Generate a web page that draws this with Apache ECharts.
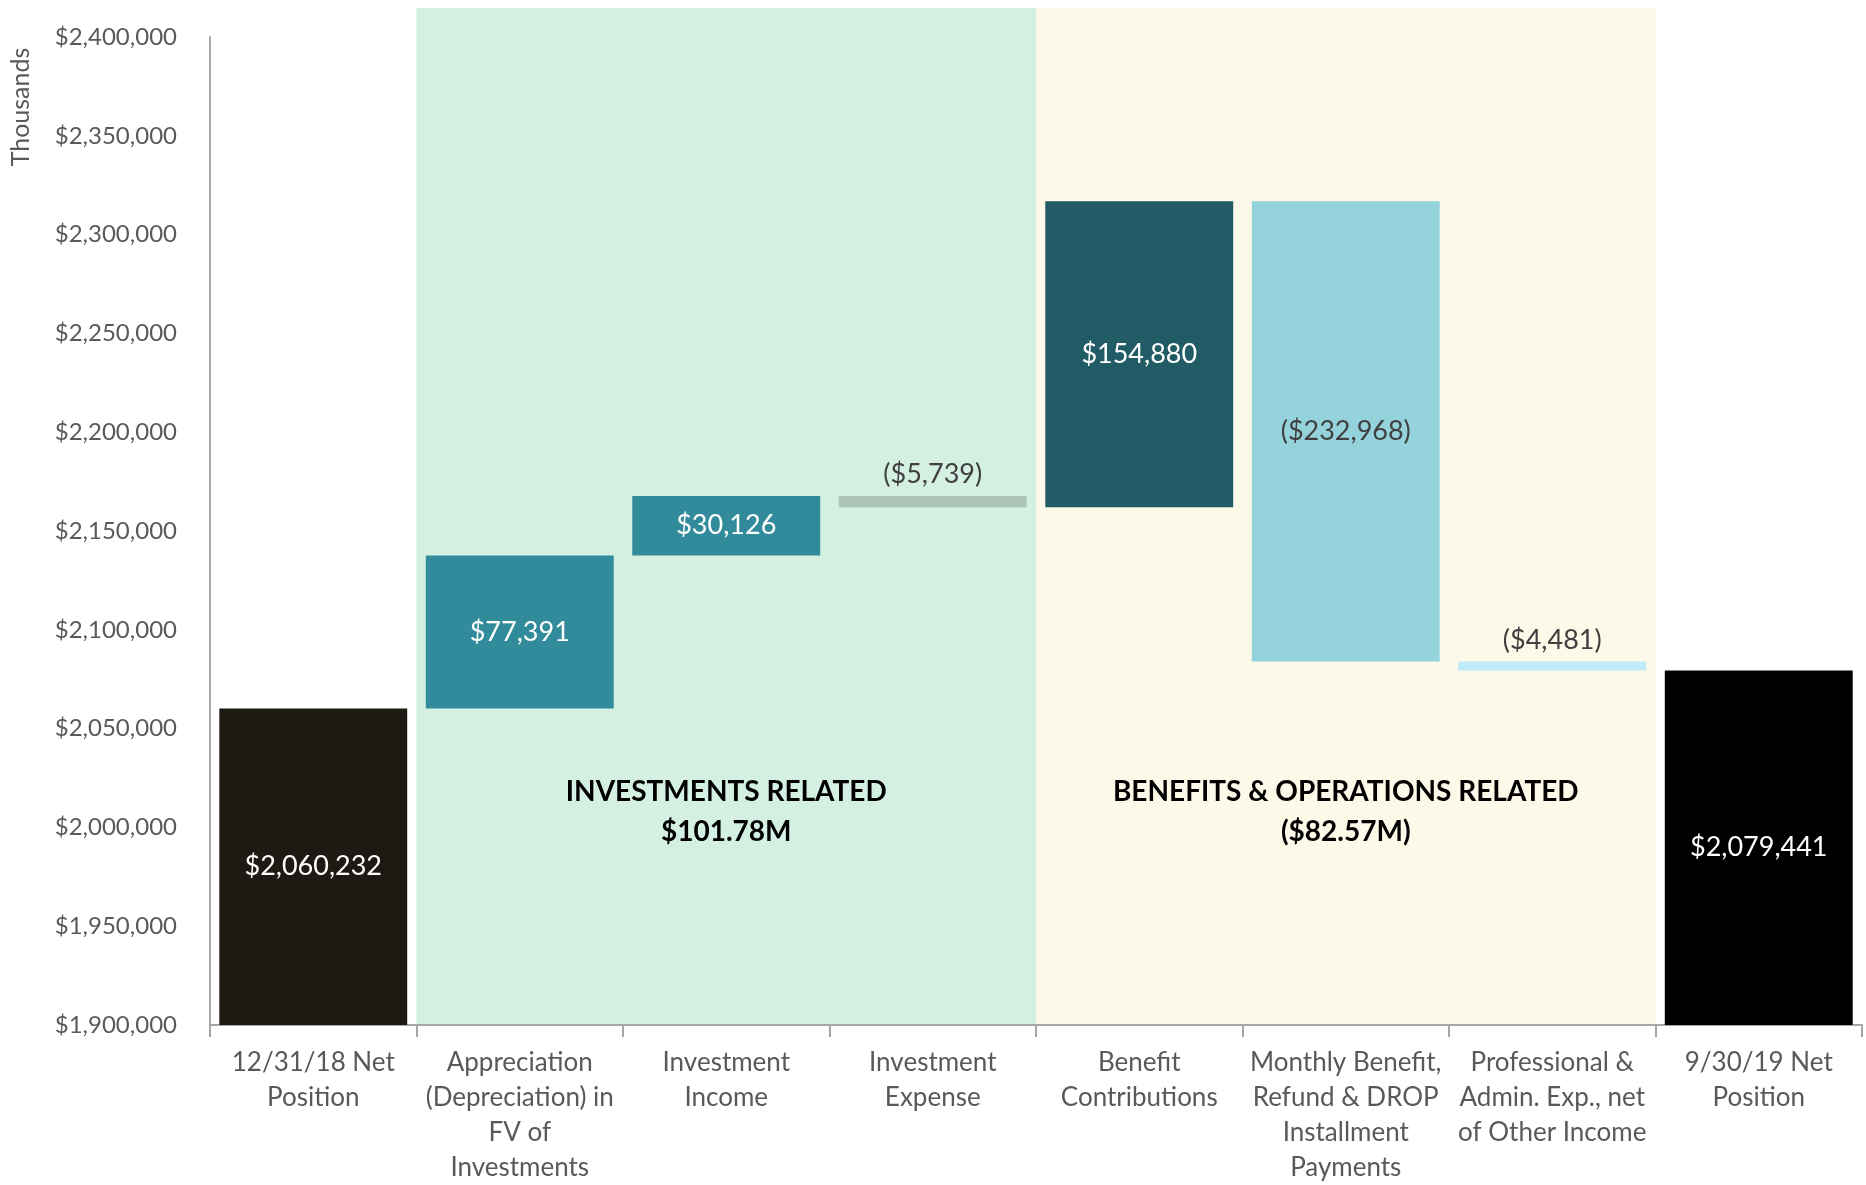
<!DOCTYPE html>
<html>
<head>
<meta charset="utf-8">
<title>Net Position Waterfall</title>
<script src="https://cdn.jsdelivr.net/npm/echarts@6/dist/echarts.min.js"></script>
<style>
  html, body { margin: 0; padding: 0; background: #fff; }
  #chart { width: 1866px; height: 1185px; }
</style>
</head>
<body>
<div id="chart"></div>
<script>
// 类目与数据
const categories = [
  '12/31/18 Net\nPosition',
  'Appreciation\n(Depreciation) in\nFV of\nInvestments',
  'Investment\nIncome',
  'Investment\nExpense',
  'Benefit\nContributions',
  'Monthly Benefit,\nRefund & DROP\nInstallment\nPayments',
  'Professional &\nAdmin. Exp., net\nof Other Income',
  '9/30/19 Net\nPosition'
];
const openingBalance = 2060232;
const changes = [77391, 30126, -5739, 154880, -232968, -4481];
const closingBalance = 2079441;

const yMin = 1900000, yMax = 2400000, yStep = 50000;

const groupTitles = ['INVESTMENTS RELATED\n$101.78M', 'BENEFITS & OPERATIONS RELATED\n($82.57M)'];

// 样式
const barColors = ['#1e1a13', '#328b9a', '#328b9a', '#adc5b9', '#215c66', '#95d3dc', '#bfecf8', '#000000'];
const labelColors = ['#fff', '#fff', '#fff', '#404040', '#fff', '#404040', '#404040', '#fff'];
const FONT = 'Lato';

function money(v) {
  const s = '$' + Math.abs(v).toLocaleString('en-US');
  return v < 0 ? '(' + s + ')' : s;
}

// 拼接瀑布图的底座和增量
let running = openingBalance;
const baseData = [openingBalance];
const deltaData = ['-'];
changes.forEach(c => {
  const end = running + c;
  baseData.push(Math.min(running, end));
  deltaData.push(Math.abs(c));
  running = end;
});
baseData.push(closingBalance);
deltaData.push('-');

const last = categories.length - 1;

const baseItems = baseData.map((v, i) => {
  const isTotal = i === 0 || i === last;
  return {
    value: v,
    itemStyle: { color: isTotal ? barColors[i] : 'rgba(0,0,0,0)' },
    label: { show: isTotal, position: 'inside', color: labelColors[i], formatter: () => money(v) }
  };
});

const deltaItems = deltaData.map((v, i) => {
  if (v === '-') return '-';
  const c = changes[i - 1];
  const small = Math.abs(c) < 10000;
  return {
    value: v,
    itemStyle: { color: barColors[i] },
    label: {
      show: true,
      position: small ? 'top' : 'inside',
      distance: 8,
      color: labelColors[i],
      formatter: () => money(c)
    }
  };
});

const chart = echarts.init(document.getElementById('chart'));

const option = {
  animation: false,
  backgroundColor: '#fff',
  textStyle: { fontFamily: FONT },
  grid: { left: 210, right: 4, top: 37, bottom: 160 },
  xAxis: {
    type: 'category',
    data: categories,
    axisLine: { lineStyle: { color: '#a6a6a6', width: 2 } },
    axisTick: { show: true, interval: 0, length: 12, lineStyle: { color: '#a6a6a6', width: 2 } },
    axisLabel: {
      interval: 0, color: '#595959', fontSize: 26, fontFamily: FONT,
      lineHeight: 35, margin: 20
    }
  },
  yAxis: {
    type: 'value',
    min: yMin,
    max: yMax,
    interval: yStep,
    splitLine: { show: false },
    axisLine: { show: true, lineStyle: { color: '#a6a6a6', width: 2 } },
    axisTick: { show: false },
    axisLabel: {
      color: '#595959', fontSize: 24, fontFamily: FONT, margin: 33,
      formatter: v => '$' + v.toLocaleString('en-US')
    }
  },
  series: [
    {
      type: 'bar', stack: 'wf', barCategoryGap: '9%', z: 3,
      label: { fontSize: 27, fontFamily: FONT },
      data: baseItems
    },
    {
      type: 'bar', stack: 'wf', barCategoryGap: '9%', z: 3,
      label: { fontSize: 27, fontFamily: FONT },
      data: deltaItems
    }
  ]
};

chart.setOption(option);

// 背景色块与分组标题
const px = i => chart.convertToPixel({ xAxisIndex: 0 }, i);
const step = px(2) - px(1);
const bottomY = chart.convertToPixel({ yAxisIndex: 0 }, yMin);
const bandTop = 8;
const bands = [
  { from: 1, to: 3, color: '#d4f0e2', title: groupTitles[0] },
  { from: 4, to: 6, color: '#fdf9e8', title: groupTitles[1] }
];
const graphics = [];
bands.forEach(b => {
  const left = px(b.from) - step / 2;
  const right = px(b.to) + step / 2;
  graphics.push({
    type: 'rect', z: -10, silent: true,
    shape: { x: left, y: bandTop, width: right - left, height: bottomY - bandTop },
    style: { fill: b.color }
  });
  graphics.push({
    type: 'text', z: 10, silent: true,
    x: (left + right) / 2, y: 812,
    style: {
      text: b.title, fill: '#000', font: 'bold 28px ' + FONT,
      align: 'center', verticalAlign: 'middle', lineHeight: 40
    }
  });
});
graphics.push({
  type: 'text', silent: true, x: 21, y: 107, rotation: Math.PI / 2,
  style: { text: 'Thousands', fill: '#595959', font: '25px ' + FONT, align: 'center', verticalAlign: 'middle' }
});
chart.setOption({ graphic: graphics });
</script>
</body>
</html>
